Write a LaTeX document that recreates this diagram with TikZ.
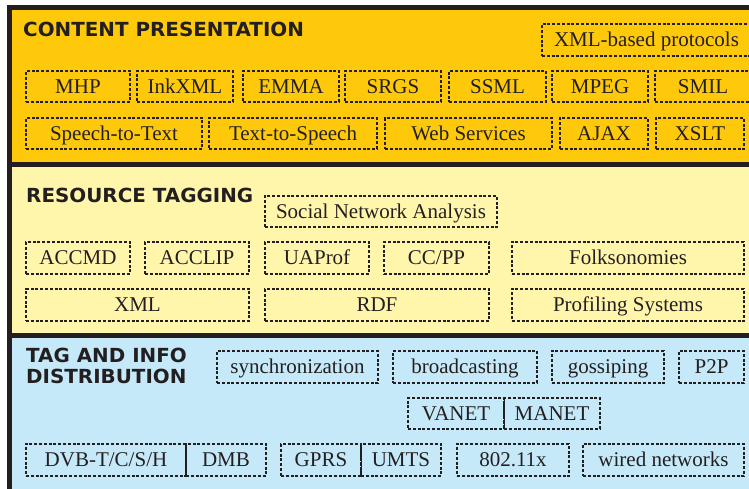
\documentclass[tikz,border=0pt]{standalone}
\usepackage{fontspec}
\setmainfont{Liberation Serif}
\newfontfamily\titlefont{DejaVu Sans}[FakeStretch=1.025]
\definecolor{ink}{HTML}{231F20}
\definecolor{bandorange}{HTML}{FFC90B}
\definecolor{bandyellow}{HTML}{FFF6AC}
\definecolor{bandblue}{HTML}{C6E9F9}
% \labelbox{name}{x1}{y1}{x2}{y2}{text}: dashed box given by its corners
\newcommand\labelbox[6]{%
  \node[tagbox, minimum width={#4-#2}, minimum height={#5-#3}]
    (#1) at ({(#2+#4)/2},{(#3+#5)/2}) {#6};}
\begin{document}
\begin{tikzpicture}[x=1pt,y=-1pt,
  tagbox/.style={draw=ink, line width=1.2pt, dash pattern=on 3pt off 1.8pt,
    inner sep=0pt, text=ink, font=\fontsize{21}{24}\selectfont,
    text height=13.4pt, text depth=0pt},
  heading/.style={inner sep=0pt, text=ink, align=left,
    font=\titlefont\bfseries\fontsize{19.4}{21}\selectfont},
  divider/.style={draw=ink, line width=1.2pt},
  frame/.style={draw=ink, line width=5pt, line join=miter}]
\useasboundingbox (0,0) rectangle (749,489);
\fill[white] (0,0) rectangle (749,489);
\begin{scope}
\clip (0,0) rectangle (749,489);
% layer bands
\fill[bandorange] (9.5,7.5) rectangle (760,164.5);
\fill[bandyellow] (9.5,164.5) rectangle (760,335);
\fill[bandblue] (9.5,335) rectangle (760,500);
\draw[frame] (9.5,500) -- (9.5,7.5) -- (760,7.5);
\draw[frame] (9.5,164.5) -- (760,164.5);
\draw[frame] (9.5,335) -- (760,335);

% content presentation
\node[heading, anchor=base west] (cpTitle) at (23,36.3) {CONTENT PRESENTATION};
\labelbox{xmlproto}{542}{24}{751}{56}{XML-based protocols}
\labelbox{mhp}{26}{71}{130}{102}{MHP}
\labelbox{inkxml}{137}{71}{233}{102}{InkXML}
\labelbox{emma}{243}{71}{339}{102}{EMMA}
\labelbox{srgs}{345}{71}{441}{102}{SRGS}
\labelbox{ssml}{449}{71}{546}{102}{SSML}
\labelbox{mpeg}{552}{71}{648}{102}{MPEG}
\labelbox{smil}{655}{71}{751}{102}{SMIL}
\labelbox{stt}{26}{118}{202}{149}{Speech-to-Text}
\labelbox{tts}{209}{118}{377}{149}{Text-to-Speech}
\labelbox{websvc}{385}{118}{552}{149}{Web Services}
\labelbox{ajax}{560}{118}{648}{149}{AJAX}
\labelbox{xslt}{656}{118}{744}{149}{XSLT}

% resource tagging
\node[heading, anchor=base west] (rtTitle) at (26,202) {RESOURCE TAGGING};
\labelbox{sna}{265}{196}{497}{227}{Social Network Analysis}
\labelbox{accmd}{26}{242}{130}{274}{ACCMD}
\labelbox{acclip}{145}{242}{249}{274}{ACCLIP}
\labelbox{uaprof}{265}{242}{369}{274}{UAProf}
\labelbox{ccpp}{384}{242}{489}{274}{CC/PP}
\labelbox{folks}{512}{242}{744}{274}{Folksonomies}
\labelbox{xml}{26}{289}{249}{321}{XML}
\labelbox{rdf}{265}{289}{489}{321}{RDF}
\labelbox{profiling}{512}{289}{744}{321}{Profiling Systems}

% tag and info distribution
\node[heading, anchor=north west] (tdTitle) at (26,348) {TAG AND INFO\\DISTRIBUTION};
\labelbox{sync}{217}{351}{378}{383}{synchronization}
\labelbox{broad}{393}{351}{537}{383}{broadcasting}
\labelbox{gossip}{552}{351}{664}{383}{gossiping}
\labelbox{ptp}{679}{351}{744}{383}{P2P}
\labelbox{vanet}{408}{398}{504}{429}{VANET}
\labelbox{manet}{504}{398}{600}{429}{MANET}
\draw[divider] (vanet.north east) -- (vanet.south east);
\labelbox{dvb}{26}{444}{186}{476}{DVB-T/C/S/H}
\labelbox{dmb}{186}{444}{266}{476}{DMB}
\labelbox{gprs}{281}{444}{361}{476}{GPRS}
\labelbox{umts}{361}{444}{441}{476}{UMTS}
\draw[divider] (gprs.north east) -- (gprs.south east);
\labelbox{wifi}{457}{444}{569}{476}{802.11x}
\labelbox{wired}{583}{444}{744}{476}{wired networks}
\end{scope}
\end{tikzpicture}
\end{document}
